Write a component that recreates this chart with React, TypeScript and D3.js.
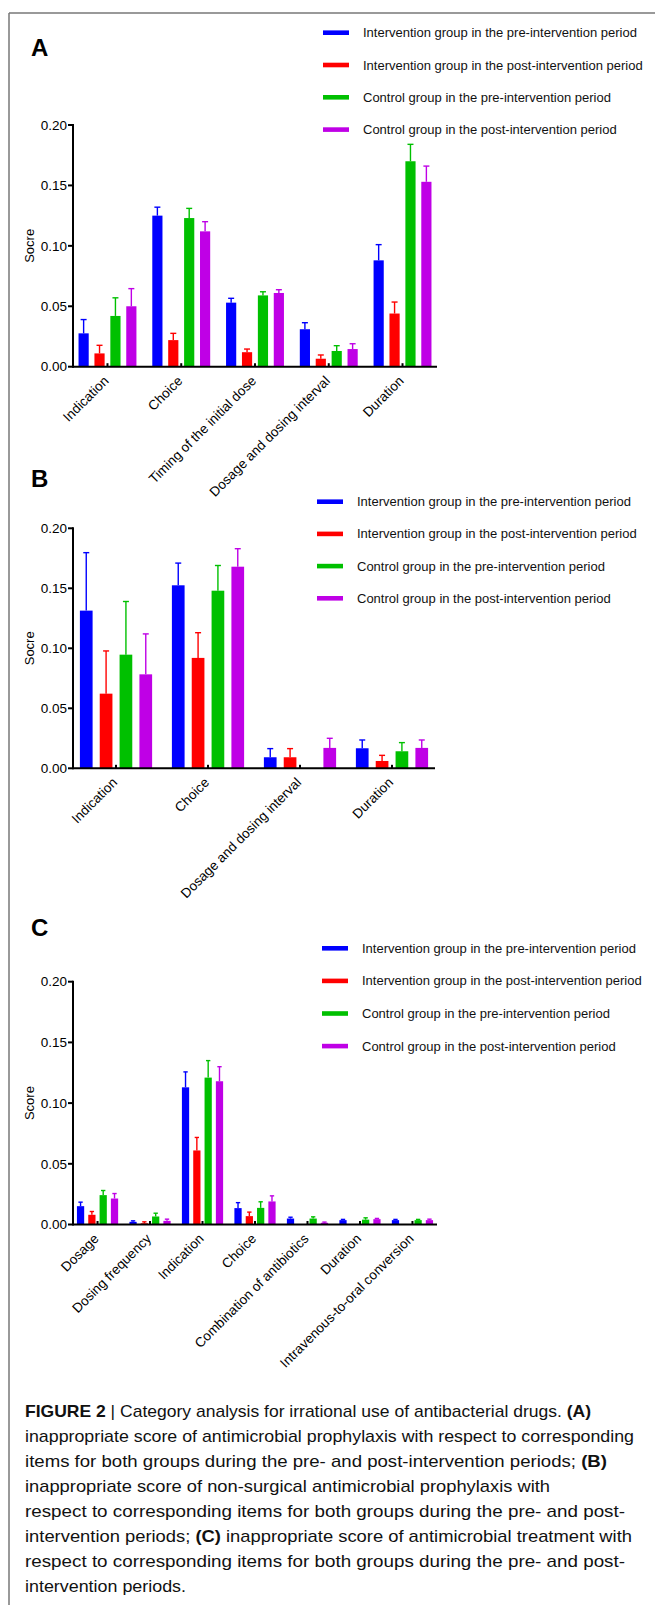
import React, { useEffect } from "react";
import * as d3 from "d3";

// ---------- data ----------
const seriesNames = [
  "Intervention group in the pre-intervention period",
  "Intervention group in the post-intervention period",
  "Control group in the pre-intervention period",
  "Control group in the post-intervention period",
];
const seriesColors = ["#0000ff", "#ff0000", "#00c000", "#bf00e6"];
const yTicks = [0, 0.05, 0.1, 0.15, 0.2];

// Panel A
const catsA = ["Indication", "Choice", "Timing of the initial dose", "Dosage and dosing interval", "Duration"];
const meanA_intPre = [0.0276, 0.125, 0.053, 0.031, 0.088];
const meanA_intPost = [0.011, 0.022, 0.012, 0.0066, 0.044];
const meanA_ctlPre = [0.042, 0.123, 0.059, 0.013, 0.17];
const meanA_ctlPost = [0.05, 0.112, 0.061, 0.0146, 0.153];
const errA_intPre = [0.0114, 0.007, 0.0036, 0.0054, 0.013];
const errA_intPost = [0.0067, 0.0056, 0.0026, 0.0031, 0.0095];
const errA_ctlPre = [0.015, 0.008, 0.003, 0.0044, 0.014];
const errA_ctlPost = [0.0146, 0.008, 0.0027, 0.0044, 0.013];

// Panel B
const catsB = ["Indication", "Choice", "Dosage and dosing interval", "Duration"];
const meanB_intPre = [0.1314, 0.1525, 0.0092, 0.0167];
const meanB_intPost = [0.0622, 0.092, 0.0092, 0.0061];
const meanB_ctlPre = [0.0947, 0.148, 0, 0.0142];
const meanB_ctlPost = [0.0783, 0.168, 0.017, 0.017];
const errB_intPre = [0.0483, 0.0185, 0.0072, 0.0069];
const errB_intPost = [0.0356, 0.021, 0.0072, 0.0047];
const errB_ctlPre = [0.0443, 0.021, 0, 0.0072];
const errB_ctlPost = [0.0337, 0.015, 0.008, 0.0066];

// Panel C
const catsC = [
  "Dosage",
  "Dosing frequency",
  "Indication",
  "Choice",
  "Combination of antibiotics",
  "Duration",
  "Intravenous-to-oral conversion",
];
const meanC_intPre = [0.0151, 0.0022, 0.113, 0.0135, 0.0049, 0.0036, 0.0036];
const meanC_intPost = [0.008, 0.001, 0.061, 0.0069, 0, 0, 0];
const meanC_ctlPre = [0.0242, 0.0066, 0.121, 0.0137, 0.0049, 0.004, 0.0036];
const meanC_ctlPost = [0.0214, 0.003, 0.118, 0.019, 0.0014, 0.0044, 0.0036];
const errC_intPre = [0.0033, 0.0008, 0.0127, 0.0045, 0.0011, 0.0006, 0.0006];
const errC_intPost = [0.0027, 0.0012, 0.0107, 0.0033, 0, 0, 0];
const errC_ctlPre = [0.0038, 0.0027, 0.014, 0.005, 0.0014, 0.0015, 0.0006];
const errC_ctlPost = [0.0041, 0.0014, 0.012, 0.0046, 0.0006, 0.0006, 0.0008];

const captionLines = [
  [["b", "FIGURE 2 "], ["n", "| "], ["n", "Category analysis for irrational use of antibacterial drugs. "], ["b", "(A)"]],
  [["n", "inappropriate score of antimicrobial prophylaxis with respect to corresponding"]],
  [["n", "items for both groups during the pre- and post-intervention periods; "], ["b", "(B)"]],
  [["n", "inappropriate score of non-surgical antimicrobial prophylaxis with"]],
  [["n", "respect to corresponding items for both groups during the pre- and post-"]],
  [["n", "intervention periods; "], ["b", "(C)"], ["n", " inappropriate score of antimicrobial treatment with"]],
  [["n", "respect to corresponding items for both groups during the pre- and post-"]],
  [["n", "intervention periods."]],
];
const captionWidths = [566, 609, 582, 525, 600, 607, 600, 161];

const FONT = "'Liberation Sans', Arial, Helvetica, sans-serif";

type PanelProps = {
  letter: string;
  cats: string[];
  means: number[][];
  errs: number[][];
  yTitle: string;
  y0: number;
  y1: number;
  x0: number;
  x1: number;
  letterY: number;
  legX: number;
  legY: number;
  legStep: number;
};

function Panel(p: PanelProps) {
  const y = d3.scaleLinear().domain([0, 0.2]).range([p.y0, p.y1]);
  const x = d3.scaleBand<string>().domain(p.cats).range([p.x0, p.x1]).paddingInner(0.215).paddingOuter(0.075);
  const xs = d3
    .scaleBand<number>()
    .domain(d3.range(seriesNames.length))
    .range([0, x.bandwidth()])
    .paddingInner(0.36)
    .paddingOuter(0);
  const bw = xs.bandwidth();
  const cap = Math.max(2, Math.min(3, bw * 0.3));
  return (
    <g>
      <text x={31} y={p.letterY} fontFamily={FONT} fontWeight="bold" fontSize={24} fill="#000">
        {p.letter}
      </text>
      {/* legend */}
      {seriesNames.map((s, i) => (
        <g key={s} transform={`translate(${p.legX},${p.legY + i * p.legStep})`}>
          <rect x={0} y={-2.3} width={26} height={4.6} fill={seriesColors[i]} />
          <text x={40} y={0} dy="0.35em" fontFamily={FONT} fontSize={13} fill="#111">
            {s}
          </text>
        </g>
      ))}
      {/* bars */}
      {p.cats.map((c, ci) => (
        <g key={c}>
          {p.means.map((m, si) => {
            const v = m[ci];
            const e = p.errs[si][ci];
            if (v <= 0) return null;
            const bx = (x(c) as number) + (xs(si) as number);
            const cx = bx + bw / 2;
            return (
              <g key={si}>
                <rect x={bx} y={y(v)} width={bw} height={p.y0 - y(v)} fill={seriesColors[si]} />
                {e > 0 && (
                  <g stroke={seriesColors[si]} strokeWidth={1.4}>
                    <line x1={cx} x2={cx} y1={y(v)} y2={y(v + e)} />
                    <line x1={cx - cap} x2={cx + cap} y1={y(v + e)} y2={y(v + e)} />
                  </g>
                )}
              </g>
            );
          })}
        </g>
      ))}
      {/* x axis */}
      <line x1={p.x0} x2={p.x1} y1={p.y0} y2={p.y0} stroke="#000" strokeWidth={2} />
      {p.cats.map((c) => {
        const cx = (x(c) as number) + x.bandwidth() / 2;
        return (
          <g key={c}>
            <line x1={cx} x2={cx} y1={p.y0} y2={p.y0 - 3.5} stroke="#000" strokeWidth={2} />
            <text
              transform={`translate(${cx + 2},${p.y0 + 15}) rotate(-45)`}
              textAnchor="end"
              fontFamily={FONT}
              fontSize={13.5}
              fill="#000"
            >
              {c}
            </text>
          </g>
        );
      })}
      {/* y axis */}
      <line x1={p.x0} x2={p.x0} y1={y(0.2) - 1} y2={p.y0 + 1} stroke="#000" strokeWidth={2} />
      {yTicks.map((t) => (
        <g key={t}>
          <line x1={p.x0 - 5} x2={p.x0} y1={y(t)} y2={y(t)} stroke="#000" strokeWidth={2} />
          <text x={p.x0 - 6} y={y(t)} dy="0.35em" textAnchor="end" fontFamily={FONT} fontSize={13.5} fill="#000">
            {d3.format(".2f")(t)}
          </text>
        </g>
      ))}
      <text
        transform={`translate(${34},${(p.y0 + p.y1) / 2}) rotate(-90)`}
        textAnchor="middle"
        fontFamily={FONT}
        fontSize={13}
        fill="#000"
      >
        {p.yTitle}
      </text>
    </g>
  );
}

export default function App() {
  useEffect(() => {
    document.body.style.margin = "0";
  }, []);
  return (
    <svg width={655} height={1605} viewBox="0 0 655 1605" style={{ display: "block", background: "#fff" }}>
      <rect x={0} y={0} width={655} height={1605} fill="#fff" />
      <line x1={9} x2={655} y1={13} y2={13} stroke="#777" strokeWidth={1.5} />
      <line x1={9} x2={9} y1={13} y2={1605} stroke="#777" strokeWidth={1.5} />
      <Panel
        letter="A"
        cats={catsA}
        means={[meanA_intPre, meanA_intPost, meanA_ctlPre, meanA_ctlPost]}
        errs={[errA_intPre, errA_intPost, errA_ctlPre, errA_ctlPost]}
        yTitle="Socre"
        y0={366.7}
        y1={125}
        x0={73}
        x1={437}
        letterY={56}
        legX={323}
        legY={32.7}
        legStep={32.3}
      />
      <Panel
        letter="B"
        cats={catsB}
        means={[meanB_intPre, meanB_intPost, meanB_ctlPre, meanB_ctlPost]}
        errs={[errB_intPre, errB_intPost, errB_ctlPre, errB_ctlPost]}
        yTitle="Socre"
        y0={768.3}
        y1={528.3}
        x0={73}
        x1={435}
        letterY={487}
        legX={317}
        legY={501.7}
        legStep={32.2}
      />
      <Panel
        letter="C"
        cats={catsC}
        means={[meanC_intPre, meanC_intPost, meanC_ctlPre, meanC_ctlPost]}
        errs={[errC_intPre, errC_intPost, errC_ctlPre, errC_ctlPost]}
        yTitle="Score"
        y0={1224.5}
        y1={981.7}
        x0={73}
        x1={437}
        letterY={936}
        legX={322}
        legY={948.3}
        legStep={32.6}
      />
      {/* caption */}
      {captionLines.map((line, i) => (
        <text
          key={i}
          x={25}
          y={1416.5 + i * 25}
          fontFamily={FONT}
          fontSize={17}
          fill="#111"
          textLength={captionWidths[i]}
          lengthAdjust="spacingAndGlyphs"
        >
          {line.map(([w, s], j) => (
            <tspan key={j} fontWeight={w === "b" ? "bold" : "normal"}>
              {s}
            </tspan>
          ))}
        </text>
      ))}
    </svg>
  );
}
